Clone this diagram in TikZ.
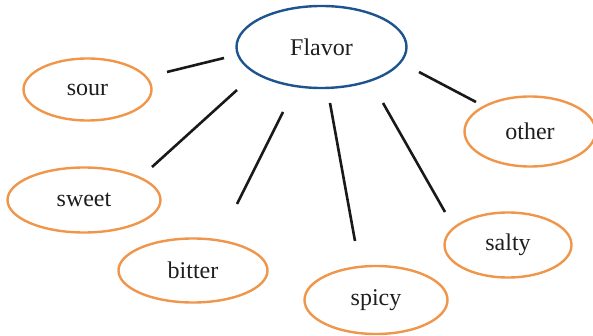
\documentclass[tikz,border=0pt]{standalone}
\usepackage{fontspec}
\setmainfont{Liberation Serif}
\usetikzlibrary{shapes.geometric}
\definecolor{orng}{RGB}{240,150,75}
\definecolor{blu}{RGB}{30,84,142}
\definecolor{txt}{RGB}{30,30,30}
\tikzset{
  oval/.style={ellipse, draw, line width=2.4pt, inner sep=0pt, text=txt, font=\fontsize{24}{28}\selectfont},
  leaf/.style={oval, draw=orng},
  root/.style={oval, draw=blu},
  conn/.style={line width=2.6pt, draw={rgb,255:red,25;green,25;blue,25}}
}
\begin{document}
\begin{tikzpicture}[x=1pt,y=-1pt]
\useasboundingbox (0,0) rectangle (593,336);
\node[root, minimum width=170pt, minimum height=82pt] (flavor) at (321.5,47) {Flavor};
\node[leaf, minimum width=128pt, minimum height=62pt] (sour) at (87.5,89.5) {sour};
\node[leaf, minimum width=153pt, minimum height=65pt] (sweet) at (84,200) {sweet};
\node[leaf, minimum width=149pt, minimum height=64pt] (bitter) at (193,270.5) {bitter};
\node[leaf, minimum width=143pt, minimum height=68pt] (spicy) at (376,300) {spicy};
\node[leaf, minimum width=127pt, minimum height=65pt] (salty) at (508,245) {salty};
\node[leaf, minimum width=131pt, minimum height=70pt] (other) at (530,131.5) {other};
\coordinate (a1) at (224,58);  \coordinate (a2) at (167,72);
\coordinate (b1) at (237,90);  \coordinate (b2) at (152,167);
\coordinate (c1) at (283,112); \coordinate (c2) at (237,204);
\coordinate (d1) at (330,103); \coordinate (d2) at (355,241);
\coordinate (e1) at (383,103); \coordinate (e2) at (445,212);
\coordinate (f1) at (419,72);  \coordinate (f2) at (476,102);
\draw[conn] (a1) -- (a2);
\draw[conn] (b1) -- (b2);
\draw[conn] (c1) -- (c2);
\draw[conn] (d1) -- (d2);
\draw[conn] (e1) -- (e2);
\draw[conn] (f1) -- (f2);
\end{tikzpicture}
\end{document}
